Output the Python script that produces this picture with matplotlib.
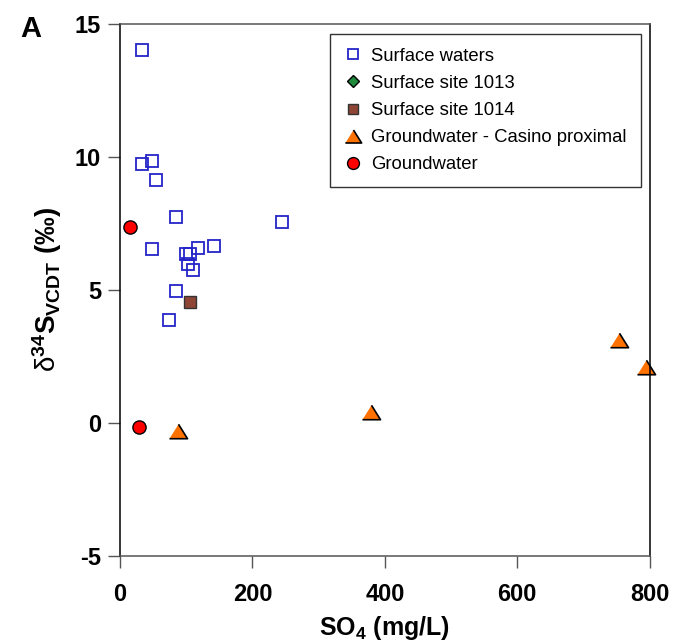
import matplotlib
matplotlib.use('Agg')
import matplotlib.pyplot as plt

plt.rcParams['font.family'] = ['Liberation Sans', 'DejaVu Sans']
plt.rcParams['mathtext.fontset'] = 'custom'
plt.rcParams['mathtext.rm'] = 'Liberation Sans'
plt.rcParams['mathtext.bf'] = 'Liberation Sans:bold'
plt.rcParams['mathtext.it'] = 'Liberation Sans:italic'
plt.rcParams['axes.unicode_minus'] = False

# data: SO4 (mg/L), d34S (permil)
surface_so4 = [34, 34, 49, 54, 85, 244, 48, 100, 106, 118, 142, 103, 111, 84, 74]
surface_d34s = [14.03, 9.74, 9.85, 9.14, 7.75, 7.55, 6.55, 6.36, 6.36, 6.57, 6.66, 5.97, 5.76, 4.95, 3.86]

site1013_so4 = []
site1013_d34s = []

site1014_so4 = [105]
site1014_d34s = [4.56]

casino_so4 = [87, 379, 754, 794]
casino_d34s = [-0.3, 0.41, 3.1, 2.1]

ground_so4 = [15, 29]
ground_d34s = [7.35, -0.15]

fig = plt.figure(figsize=(6.74, 6.44), dpi=100)
ax = fig.add_axes([0.178, 0.137, 0.786, 0.826])

tri = [(-1, -0.8), (1, -0.8), (0, 0.8)]

ax.plot(surface_so4, surface_d34s, 's', ms=8.5, mfc='none', mec='#2424c8', mew=1.3,
        ls='none', label='Surface waters', clip_on=False)
ax.plot(site1013_so4, site1013_d34s, 'D', ms=6.5, mfc='#1f8a3c', mec='black', mew=1,
        ls='none', label='Surface site 1013')
ax.plot(site1014_so4, site1014_d34s, 's', ms=8.5, mfc='#8e4536', mec='#333333', mew=1,
        ls='none', label='Surface site 1014')
ax.plot(casino_so4, casino_d34s, marker=tri, ms=13, mfc='#ff7200', mec='black', mew=1.2,
        ls='none', label='Groundwater - Casino proximal', clip_on=False)
ax.plot(ground_so4, ground_d34s, 'o', ms=9.5, mfc='#ff0000', mec='black', mew=1,
        ls='none', label='Groundwater', clip_on=False)

ax.set_xlim(0, 800)
ax.set_ylim(-5, 15)
ax.set_xticks([0, 200, 400, 600, 800])
ax.set_yticks([-5, 0, 5, 10, 15])
ax.tick_params(direction='out', length=8.5, width=1, color='#555555', labelsize=17)
ax.tick_params(axis='x', pad=11)
ax.tick_params(axis='y', pad=5)
for lab in ax.get_xticklabels() + ax.get_yticklabels():
    lab.set_fontweight('bold')
for side in ['left', 'right']:
    ax.spines[side].set_color('black')
for side in ['top', 'bottom']:
    ax.spines[side].set_color('#555555')
for s in ax.spines.values():
    s.set_linewidth(1.1)

ax.set_xlabel(r'SO$_\mathbf{4}$ (mg/L)', fontsize=18, fontweight='bold', labelpad=6)
ax.set_ylabel(r'$\mathrm{\delta}^\mathbf{34}$S$_\mathbf{VCDT}$ (‰)', fontsize=20,
              fontweight='bold', labelpad=8)

leg = ax.legend(loc='upper right', bbox_to_anchor=(0.983, 0.981), fontsize=13.3,
                frameon=True, fancybox=False, edgecolor='black', borderpad=0.75,
                labelspacing=0.55, handletextpad=0.5, handlelength=1.0,
                markerscale=0.9, borderaxespad=0)
leg.get_frame().set_linewidth(1.0)

fig.text(0.03, 0.977, 'A', fontsize=21, fontweight='bold', va='top', ha='left')

fig.savefig('out.png', dpi=100)
